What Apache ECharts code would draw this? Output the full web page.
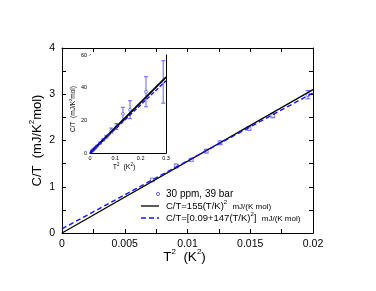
<!DOCTYPE html>
<html>
<head>
<meta charset="utf-8">
<script src="https://cdn.jsdelivr.net/npm/echarts@6/dist/echarts.min.js"></script>
<style>html,body{margin:0;padding:0;background:#fff}#c{width:376px;height:291px}</style>
</head>
<body>
<div id="c"></div>
<script>
// ---- data ----
// T^2 (K^2)
var t2 = [0.0072, 0.0091, 0.0103, 0.0115, 0.0126, 0.0149, 0.0168, 0.0196,
          0.027, 0.040, 0.052, 0.065, 0.084, 0.104, 0.130, 0.158, 0.221, 0.289];
// C/T (mJ/K^2 mol)
var ct = [1.15, 1.45, 1.58, 1.77, 1.95, 2.26, 2.54, 2.99,
          4.2, 6.1, 8.0, 10.0, 13.8, 16.2, 24.0, 26.5, 37.5, 43.5];
// error (+/-)
var err = [0.03, 0.04, 0.03, 0.04, 0.04, 0.04, 0.05, 0.09,
           0.3, 0.4, 0.5, 0.8, 1.5, 1.8, 4.0, 5.5, 9.2, 13.0];
// fit coefficients: C/T = a + b*T^2
var fitBlack = {a: 0, b: 155};
var fitBlue = {a: 0.09, b: 147};
var mainXRange = [0, 0.02];
var insetXRange = [0, 0.3];
var mainXTicks = ['0', '0.005', '0.01', '0.015', '0.02'];
var mainYTicks = ['0', '1', '2', '3', '4'];
var insetXTicks = ['0', '0.1', '0.2', '0.3'];
var insetYTicks = ['0', '20', '40', '60'];
var legendLabels = ['30 ppm, 39 bar', 'C/T=155(T/K){sup|2}  {s|mJ/(K mol)}', 'C/T=[0.09+147(T/K){sup|2}]  {s|mJ/(K mol)}'];

var PT = '#6464ff', BL = '#1414ff';
function fitLine(f, r) { return r.map(function (x) { return [x, f.a + f.b * x]; }); }
var pts = t2.map(function (x, i) { return [x, ct[i], err[i]]; });
var mainPts = pts.filter(function (p) { return p[0] <= mainXRange[1]; });

function errBar(params, api) {
  var x = api.value(0), y = api.value(1), e = api.value(2);
  var top = api.coord([x, y + e]), bot = api.coord([x, y - e]);
  var w = params.seriesIndex === 0 ? 2.5 : 2;
  var st = {stroke: PT, lineWidth: 1};
  return {type: 'group', children: [
    {type: 'line', shape: {x1: top[0], y1: top[1], x2: bot[0], y2: bot[1]}, style: st},
    {type: 'line', shape: {x1: top[0] - w, y1: top[1], x2: top[0] + w, y2: top[1]}, style: st},
    {type: 'line', shape: {x1: bot[0] - w, y1: bot[1], x2: bot[0] + w, y2: bot[1]}, style: st}
  ]};
}

var FONT = 'Liberation Sans';
function tickFmt(arr, interval) { return function (v) { var i = Math.round(v / interval); return arr[i] !== undefined ? arr[i] : ''; }; }
function axisCommon(extra) {
  var base = {
    axisLine: {show: true, onZero: false, lineStyle: {color: '#000', width: 1}},
    axisTick: {show: true, inside: true, length: 4, lineStyle: {color: '#000'}},
    minorTick: {show: true, splitNumber: 2, length: 4, lineStyle: {color: '#000'}},
    splitLine: {show: false},
    axisLabel: {show: false},
    nameMoveOverlap: false
  };
  for (var k in extra) base[k] = extra[k];
  return base;
}

function supRich(sup, raise) {
  return {sup: {fontSize: sup, fontFamily: FONT, color: '#000', padding: [0, 0, raise * 2, 0]}};
}

var smallInset = {show: true, inside: true, length: 2.5, lineStyle: {color: '#000'}};
var smallMinor = {show: true, splitNumber: 2, length: 2.5, lineStyle: {color: '#000'}};

var chart = echarts.init(document.getElementById('c'), null, {renderer: 'canvas'});
chart.setOption({
  animation: false,
  backgroundColor: '#fff',
  grid: [
    {left: 62, top: 48, width: 251, height: 185, show: false},
    {left: 90, top: 55, width: 76, height: 98, show: true, backgroundColor: '#fff', borderWidth: 0, z: 5}
  ],
  xAxis: [
    axisCommon({gridIndex: 0, type: 'value', min: mainXRange[0], max: mainXRange[1], interval: 0.005,
      axisLabel: {show: true, formatter: tickFmt(mainXTicks, 0.005), fontSize: 10.5, fontFamily: FONT, color: '#000', margin: 6},
      name: 'T{sup|2}  (K{sup|2})', nameLocation: 'middle', nameGap: 15,
      nameTextStyle: {fontSize: 13.5, fontFamily: FONT, color: '#000', padding: [0, 6, 0, 0], rich: supRich(8, 5)}}),
    axisCommon({gridIndex: 0, type: 'value', position: 'top', min: mainXRange[0], max: mainXRange[1], interval: 0.005}),
    axisCommon({gridIndex: 1, type: 'value', min: insetXRange[0], max: insetXRange[1], interval: 0.1,
      axisTick: smallInset, minorTick: smallMinor,
      axisLabel: {show: true, formatter: tickFmt(insetXTicks, 0.1), fontSize: 5.5, fontFamily: FONT, color: '#000', margin: 2},
      name: 'T{sup|2}  (K{sup|2})', nameLocation: 'middle', nameGap: 9,
      nameTextStyle: {fontSize: 7, fontFamily: FONT, color: '#000', padding: [0, 8, 0, 0], rich: supRich(4.5, 2.5)}}),
    axisCommon({gridIndex: 1, type: 'value', position: 'top', min: insetXRange[0], max: insetXRange[1], interval: 0.1,
      axisTick: smallInset, minorTick: smallMinor})
  ],
  yAxis: [
    axisCommon({gridIndex: 0, type: 'value', min: 0, max: 4, interval: 1,
      axisLabel: {show: true, formatter: tickFmt(mainYTicks, 1), fontSize: 10.5, fontFamily: FONT, color: '#000', margin: 7},
      name: 'C/T  (mJ/K{sup|2}mol)', nameLocation: 'middle', nameGap: 16, nameRotate: 90,
      nameTextStyle: {fontSize: 13, fontFamily: FONT, color: '#000', rich: supRich(8, 5)}}),
    axisCommon({gridIndex: 0, type: 'value', position: 'right', min: 0, max: 4, interval: 1}),
    axisCommon({gridIndex: 1, type: 'value', min: 0, max: 60, interval: 20,
      axisTick: smallInset, minorTick: smallMinor,
      axisLabel: {show: true, formatter: tickFmt(insetYTicks, 20), fontSize: 5.5, fontFamily: FONT, color: '#000', margin: 3},
      name: 'C/T  (mJ/K{sup|2}mol)', nameLocation: 'middle', nameGap: 12, nameRotate: 90,
      nameTextStyle: {fontSize: 6.5, fontFamily: FONT, color: '#000', rich: supRich(4, 2.5), padding: [0, 10, 0, 0]}}),
    axisCommon({gridIndex: 1, type: 'value', position: 'right', min: 0, max: 60, interval: 20,
      axisTick: smallInset, minorTick: smallMinor})
  ],
  series: [
    // main plot
    {type: 'custom', xAxisIndex: 0, yAxisIndex: 0, data: mainPts, renderItem: errBar, clip: true, z: 3},
    {type: 'scatter', xAxisIndex: 0, yAxisIndex: 0, data: mainPts, symbol: 'circle', symbolSize: 4,
      itemStyle: {color: '#fff', borderColor: PT, borderWidth: 1}, z: 4},
    {type: 'line', xAxisIndex: 0, yAxisIndex: 0, data: fitLine(fitBlack, mainXRange), showSymbol: false, symbol: 'none',
      lineStyle: {color: '#000', width: 1.3}, z: 5},
    {type: 'line', xAxisIndex: 0, yAxisIndex: 0, data: fitLine(fitBlue, mainXRange), showSymbol: false, symbol: 'none',
      lineStyle: {color: BL, width: 1.4, type: [5, 3]}, z: 6},
    // inset
    {type: 'custom', xAxisIndex: 2, yAxisIndex: 2, data: pts, renderItem: errBar, clip: true, z: 7},
    {type: 'scatter', xAxisIndex: 2, yAxisIndex: 2, data: pts, symbol: 'circle', symbolSize: 3,
      itemStyle: {color: '#fff', borderColor: PT, borderWidth: 1}, z: 8},
    {type: 'line', xAxisIndex: 2, yAxisIndex: 2, data: fitLine(fitBlack, insetXRange), showSymbol: false, symbol: 'none',
      lineStyle: {color: '#000', width: 1.8}, z: 9},
    {type: 'line', xAxisIndex: 2, yAxisIndex: 2, data: fitLine(fitBlue, insetXRange), showSymbol: false, symbol: 'none',
      lineStyle: {color: BL, width: 1.5, type: [4, 2]}, z: 10}
  ],
  graphic: [
    {type: 'circle', shape: {cx: 158, cy: 194, r: 1.6}, style: {fill: '#fff', stroke: PT, lineWidth: 1}, z: 20},
    {type: 'text', x: 166, y: 194, style: {text: legendLabels[0], fontSize: 10, fontFamily: FONT, fill: '#000', verticalAlign: 'middle'}, z: 20},
    {type: 'line', shape: {x1: 141, y1: 206, x2: 159, y2: 206}, style: {stroke: '#000', lineWidth: 1.3}, z: 20},
    {type: 'text', x: 166, y: 206, style: {text: legendLabels[1], fontSize: 9.5, fontFamily: FONT, fill: '#000', verticalAlign: 'middle',
      rich: {sup: {fontSize: 6, fontFamily: FONT, padding: [0, 0, 7, 0]}, s: {fontSize: 8, fontFamily: FONT, padding: [2, 0, 0, 0]}}}, z: 20},
    {type: 'line', shape: {x1: 141, y1: 218, x2: 159, y2: 218}, style: {stroke: BL, lineWidth: 1.4, lineDash: [5, 3]}, z: 20},
    {type: 'text', x: 166, y: 218, style: {text: legendLabels[2], fontSize: 9.5, fontFamily: FONT, fill: '#000', verticalAlign: 'middle',
      rich: {sup: {fontSize: 6, fontFamily: FONT, padding: [0, 0, 7, 0]}, s: {fontSize: 8, fontFamily: FONT, padding: [2, 0, 0, 0]}}}, z: 20}
  ]
});
</script>
</body>
</html>
